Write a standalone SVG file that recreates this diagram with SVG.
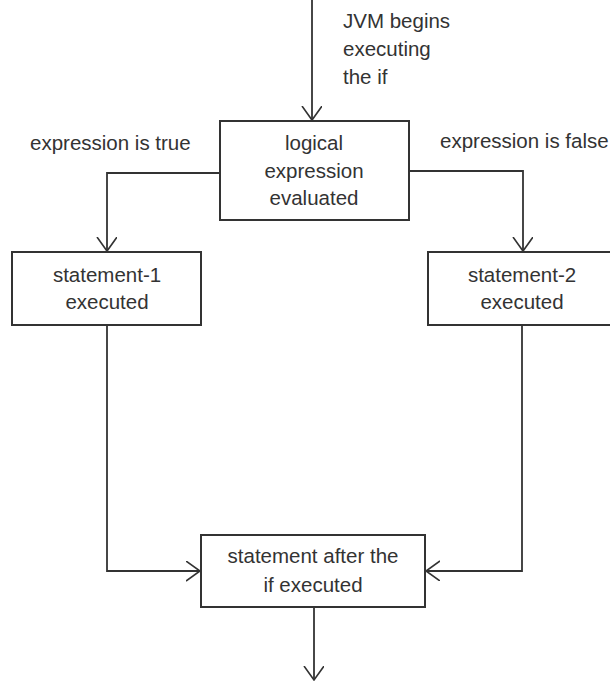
<svg xmlns="http://www.w3.org/2000/svg" width="610" height="681" viewBox="0 0 610 681">
<defs>
<marker id="arr" markerWidth="24" markerHeight="24" refX="14" refY="10" orient="auto" markerUnits="userSpaceOnUse">
<path d="M0,0 L14,10 L0,20" fill="none" stroke="#333" stroke-width="1.6"/>
</marker>
</defs>
<style>
.box{fill:#fff;stroke:#333;stroke-width:2}
.t{font-family:"Liberation Sans",Arial,sans-serif;font-size:20.5px;fill:#333}
.c{text-anchor:middle}
.edge{fill:none;stroke:#333;stroke-width:1.8;marker-end:url(#arr)}
</style>
<rect width="610" height="681" fill="#fff"/>
<g id="connectors">
<path class="edge" d="M312,0 L312,120"/>
<path class="edge" d="M220,173 L107,173 L107,251"/>
<path class="edge" d="M409,171 L523,171 L523,251"/>
<path class="edge" d="M107,325 L107,571 L200,571"/>
<path class="edge" d="M522,325 L522,571 L426,571"/>
<path class="edge" d="M314,607 L314,680"/>
</g>
<g id="label-jvm">
<text class="t" x="343" y="28">JVM begins</text>
<text class="t" x="343" y="56">executing</text>
<text class="t" x="343" y="84">the if</text>
</g>
<g id="label-true"><text class="t" x="30" y="150">expression is true</text></g>
<g id="label-false"><text class="t" x="440" y="148">expression is false</text></g>
<g id="logical">
<rect class="box" x="220" y="121" width="189" height="99"/>
<text class="t c" x="314" y="150">logical</text>
<text class="t c" x="314" y="178">expression</text>
<text class="t c" x="314" y="205">evaluated</text>
</g>
<g id="stmt1">
<rect class="box" x="12" y="252" width="189" height="73"/>
<text class="t c" x="107" y="282">statement-1</text>
<text class="t c" x="107" y="309">executed</text>
</g>
<g id="stmt2">
<rect class="box" x="428" y="252" width="189" height="73"/>
<text class="t c" x="522" y="282">statement-2</text>
<text class="t c" x="522" y="309">executed</text>
</g>
<g id="after">
<rect class="box" x="201" y="535" width="224" height="72"/>
<text class="t c" x="313" y="563">statement after the</text>
<text class="t c" x="313" y="592">if  executed</text>
</g>
</svg>
